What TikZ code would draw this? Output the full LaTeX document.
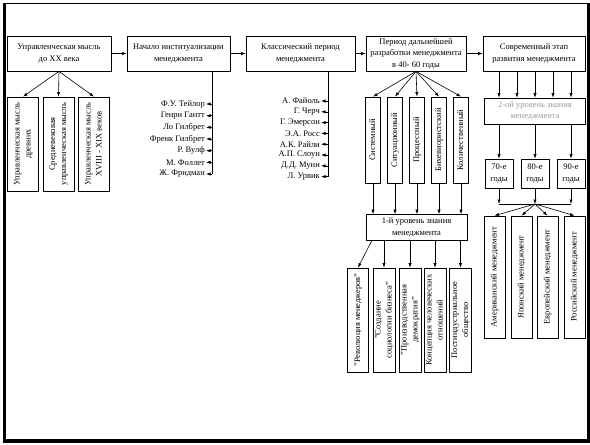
\documentclass[tikz,border=0pt]{standalone}
\usepackage{fontspec}
\setmainfont{Liberation Serif}
\usepackage{graphicx}
\usetikzlibrary{arrows.meta}
\definecolor{lvlgray}{HTML}{9A9A9A}

% rotated text for the tall boxes
\newcommand{\vtext}[1]{\rotatebox{90}{\begin{tabular}{@{}c@{}}#1\end{tabular}}}

\begin{document}
\begin{tikzpicture}[
  x=1pt, y=-1pt,
  >={Latex[length=4.5pt, width=3.2pt]},
  stage/.style={
    draw, line width=0.7pt, minimum width=#1, minimum height=35pt,
    align=center, inner sep=1pt, font=\fontsize{8.5}{11.5}\selectfont
  },
  level/.style={
    draw, line width=0.7pt, minimum width=101pt, minimum height=26pt,
    align=center, inner sep=1pt, font=\fontsize{8.5}{11.5}\selectfont
  },
  vbox/.style={draw, line width=0.7pt, inner sep=0pt, font=\fontsize{8.5}{11}\selectfont},
  person/.style={anchor=east, inner sep=1pt, font=\fontsize{8.5}{10}\selectfont},
  arr/.style={->, line width=0.6pt},
  link/.style={line width=0.6pt},
]

\useasboundingbox (0,0) rectangle (590,445);

% Frame
\draw[line width=1pt] (3,3.5) rectangle (587,439);
\draw[line width=3pt] (4.5,3) -- (4.5,441);
\draw[line width=3.5pt] (3,441) -- (590,441);
\draw[line width=3pt] (588.5,3) -- (588.5,442);

% =============================================
% Top row: stages
% =============================================
\node[stage=104pt] (b1) at (59,53.5) {Управленческая мысль\\до XX века};
\node[stage=103pt] (b2) at (178.5,53.5) {Начало институализации\\менеджмента};
\node[stage=109pt] (b3) at (300.5,53.5) {Классический период\\менеджмента};
\node[stage=100pt] (b4) at (416,53.5) {Период дальнейшей\\разработки менеджмента\\в 40- 60 годы};
\node[stage=102pt] (b5) at (534,53.5) {Современный этап\\развития менеджмента};

\draw[arr] (b1) -- (b2);
\draw[arr] (b2) -- (b3);
\draw[arr] (b3) -- (b4);
\draw[arr] (b4) -- (b5);

% =============================================
% Before XX century
% =============================================
\node[vbox, minimum width=31pt, minimum height=94pt] (m1) at (23,144)
  {\vtext{Управленческая мысль\\древних}};
\node[vbox, minimum width=31pt, minimum height=94pt] (m2) at (58.5,144)
  {\vtext{Средневековая\\управленческая мысль}};
\node[vbox, minimum width=31pt, minimum height=94pt] (m3) at (94,144)
  {\vtext{Управленческая мысль\\XVIII - XIX веков}};

\draw[arr] (b1.south) -- (m1.north);
\draw[arr] (b1.south) -- (m2.north);
\draw[arr] (b1.south) -- (m3.north);

% =============================================
% Institutionalisation: names
% =============================================
\coordinate (s2) at (212,71);
\node[person] (p1) at (206,104) {Ф.У. Тейлор};
\node[person] (p2) at (206,115.7) {Генри Гантт};
\node[person] (p3) at (206,127.3) {Ло Гилбрет};
\node[person] (p4) at (206,139) {Френк Гилбрет};
\node[person] (p5) at (206,150.7) {Р. Вулф};
\node[person] (p6) at (206,162.3) {М. Фоллет};
\node[person] (p7) at (206,174) {Ж. Фридман};

\draw[link] (s2) -- (s2 |- p7.east);
\draw[arr] (p1.east -| s2) -- (p1.east);
\draw[arr] (p2.east -| s2) -- (p2.east);
\draw[arr] (p3.east -| s2) -- (p3.east);
\draw[arr] (p4.east -| s2) -- (p4.east);
\draw[arr] (p5.east -| s2) -- (p5.east);
\draw[arr] (p6.east -| s2) -- (p6.east);
\draw[arr] (p7.east -| s2) -- (p7.east);

% =============================================
% Classical period: names
% =============================================
\coordinate (s3) at (328,71);
\node[person] (q1) at (321,101) {А. Файоль};
\node[person] (q2) at (321,111.8) {Г. Черч};
\node[person] (q3) at (321,122.6) {Г. Эмерсон};
\node[person] (q4) at (321,133.4) {Э.А. Росс};
\node[person] (q5) at (321,144.2) {А.К. Райли};
\node[person] (q6) at (321,155) {А.П. Слоун};
\node[person] (q7) at (321,165.8) {Д.Д. Муни};
\node[person] (q8) at (321,176.6) {Л. Урвик};

\draw[link] (s3) -- (s3 |- q8.east);
\draw[arr] (q1.east -| s3) -- (q1.east);
\draw[arr] (q2.east -| s3) -- (q2.east);
\draw[arr] (q3.east -| s3) -- (q3.east);
\draw[arr] (q4.east -| s3) -- (q4.east);
\draw[arr] (q5.east -| s3) -- (q5.east);
\draw[arr] (q6.east -| s3) -- (q6.east);
\draw[arr] (q7.east -| s3) -- (q7.east);
\draw[arr] (q8.east -| s3) -- (q8.east);

% =============================================
% 40-60s: approaches and first level
% =============================================
\node[level] (l1) at (416.5,227.5) {1-й уровень знания\\менеджмента};

\node[vbox, minimum width=15pt, minimum height=86pt] (a1) at (373,140) {\vtext{Системный}};
\node[vbox, minimum width=15pt, minimum height=86pt] (a2) at (395,140) {\vtext{Ситуационный}};
\node[vbox, minimum width=15pt, minimum height=86pt] (a3) at (417,140) {\vtext{Процессный}};
\node[vbox, minimum width=15pt, minimum height=86pt] (a4) at (439,140) {\vtext{Бихевиористский}};
\node[vbox, minimum width=15pt, minimum height=86pt] (a5) at (461,140) {\vtext{Количественный}};

\draw[arr] (b4.south) -- (a1.north);
\draw[arr] (b4.south) -- (a2.north);
\draw[arr] (b4.south) -- (a3.north);
\draw[arr] (b4.south) -- (a4.north);
\draw[arr] (b4.south) -- (a5.north);

\draw[arr] (a1.south) -- (a1.south |- l1.north);
\draw[arr] (a2.south) -- (a2.south |- l1.north);
\draw[arr] (a3.south) -- (a3.south |- l1.north);
\draw[arr] (a4.south) -- (a4.south |- l1.north);
\draw[arr] (a5.south) -- (a5.south |- l1.north);

\node[vbox, minimum width=21pt, minimum height=104pt] (r1) at (358,320)
  {\vtext{"Революция менеджеров"}};
\node[vbox, minimum width=21pt, minimum height=104pt] (r2) at (384,320)
  {\vtext{"Создание\\социологии бизнеса"}};
\node[vbox, minimum width=21pt, minimum height=104pt] (r3) at (410,320)
  {\vtext{"Производственная\\демократия"}};
\node[vbox, minimum width=21pt, minimum height=104pt] (r4) at (435,320)
  {\vtext{Концепция человеческих\\отношений}};
\node[vbox, minimum width=21pt, minimum height=104pt] (r5) at (460.5,320)
  {\vtext{Постиндустриальное\\общество}};

\draw[arr] ([xshift=6pt]l1.south west) -- (r1.north);
\draw[arr] (r2.north |- l1.south) -- (r2.north);
\draw[arr] (r3.north |- l1.south) -- (r3.north);
\draw[arr] (r4.north |- l1.south) -- (r4.north);
\draw[arr] (r5.north |- l1.south) -- (r5.north);

% =============================================
% Modern stage: second level
% =============================================
\node[level, text=lvlgray] (l2) at (535,111) {2-ой уровень знания\\менеджмента};

\coordinate (t1) at (499,71);
\coordinate (t2) at (517,71);
\coordinate (t3) at (535,71);
\coordinate (t4) at (553,71);
\coordinate (t5) at (571,71);
\draw[arr] (t1) -- (t1 |- l2.north);
\draw[arr] (t2) -- (t2 |- l2.north);
\draw[arr] (t3) -- (t3 |- l2.north);
\draw[arr] (t4) -- (t4 |- l2.north);
\draw[arr] (t5) -- (t5 |- l2.north);

% Decades
\node[stage=28pt, minimum height=29pt] (g70) at (499,173.5) {70-е\\годы};
\node[stage=28pt, minimum height=29pt] (g80) at (535,173.5) {80-е\\годы};
\node[stage=28pt, minimum height=29pt] (g90) at (571,173.5) {90-е\\годы};

\draw[arr] (g70.north |- l2.south) -- (g70.north);
\draw[arr] (g80.north |- l2.south) -- (g80.north);
\draw[arr] (g90.north |- l2.south) -- (g90.north);

\coordinate (hub) at (535,204);
\draw[arr] (g70.south) -- (g70.south |- hub);
\draw[arr] (g80.south) -- (hub);
\draw[arr] (g90.south) -- (g90.south |- hub);
\draw[link] (g70.south |- hub) -- (g90.south |- hub);

% National schools
\node[vbox, minimum width=21pt, minimum height=122pt] (c1) at (494.5,277)
  {\vtext{Американский менеджмент}};
\node[vbox, minimum width=21pt, minimum height=122pt] (c2) at (521.5,277)
  {\vtext{Японский менеджмент}};
\node[vbox, minimum width=21pt, minimum height=122pt] (c3) at (547.5,277)
  {\vtext{Европейский менеджмент}};
\node[vbox, minimum width=21pt, minimum height=122pt] (c4) at (574.5,277)
  {\vtext{Российский менеджмент}};

\draw[arr] (hub) -- (c1.north);
\draw[arr] (hub) -- (c2.north);
\draw[arr] (hub) -- (c3.north);
\draw[arr] (hub) -- (c4.north);

\end{tikzpicture}
\end{document}
